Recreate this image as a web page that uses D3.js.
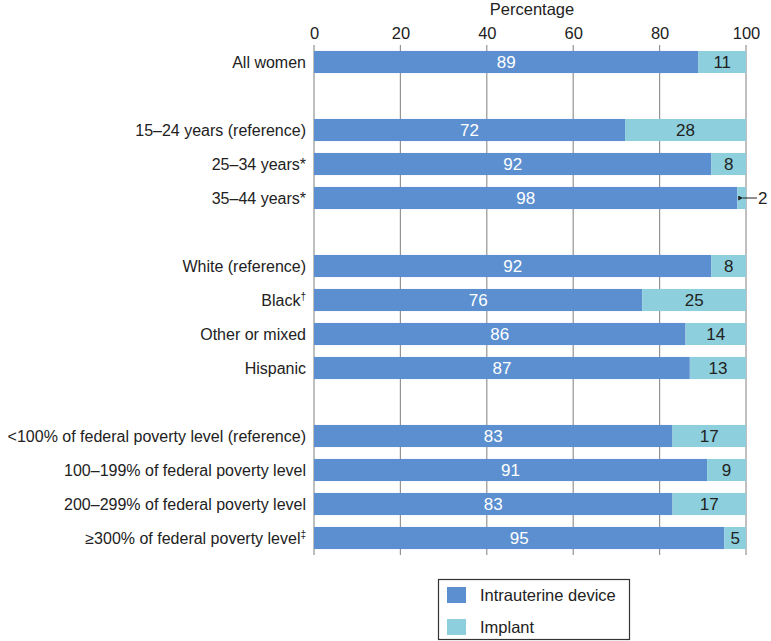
<!DOCTYPE html>
<html><head><meta charset="utf-8">
<script src="https://cdn.jsdelivr.net/npm/d3@7"></script>
<style>body{margin:0;background:#fff}svg{display:block}text{font-family:"Liberation Sans",Arial,sans-serif}</style>
</head><body><svg id="c" width="771" height="641"></svg>
<script>
const categories = ["All women","","15–24 years (reference)","25–34 years*","35–44 years*","","White (reference)","Black","Other or mixed","Hispanic","","<100% of federal poverty level (reference)","100–199% of federal poverty level","200–299% of federal poverty level","≥300% of federal poverty level"];
const superscripts = ["","","","","","","","†","","","","","","","‡"];
const iudValues =     [89,null,72,92,98,null,92,76,86,87,null,83,91,83,95];
const implantValues = [11,null,28,8,2,null,8,25,14,13,null,17,9,17,5];
const tickValues = [0,20,40,60,80,100];
const seriesNames = ["Intrauterine device","Implant"];
const colors = ["#5b8fd0","#8dcfdc"];

const svg = d3.select("#c");
const x = d3.scaleLinear().domain([0,100]).range([314,746]).clamp(true);
const y = d3.scaleBand().domain(d3.range(categories.length)).range([45,555]).paddingInner(0.35).paddingOuter(0.175);

// gridlines
svg.append("g").selectAll("line").data(tickValues).join("line")
  .attr("x1",d=>x(d)).attr("x2",d=>x(d)).attr("y1",45).attr("y2",555)
  .attr("stroke","#949494").attr("stroke-width",1.2);

// axis
const ax = svg.append("g").attr("transform","translate(0,45)").call(d3.axisTop(x).tickValues(tickValues).tickSize(0).tickPadding(6));
ax.select(".domain").remove();
ax.selectAll("text").attr("font-size",16.5).attr("fill","#222").attr("font-family","Liberation Sans, Arial, sans-serif");
svg.append("text").attr("x",532).attr("y",15).attr("text-anchor","middle").attr("font-size",16.5).attr("fill","#222").text("Percentage");

const rows = categories.map((c,i)=>({c,i,iud:iudValues[i],imp:implantValues[i],sup:superscripts[i]})).filter(d=>d.iud!==null);

// bars
const g = svg.append("g");
g.selectAll("rect.iud").data(rows).join("rect").attr("class","iud")
  .attr("x",x(0)).attr("y",d=>y(d.i)).attr("width",d=>x(d.iud)-x(0)).attr("height",y.bandwidth()).attr("fill",colors[0]);
g.selectAll("rect.imp").data(rows).join("rect").attr("class","imp")
  .attr("x",d=>x(d.iud)).attr("y",d=>y(d.i)).attr("width",d=>x(d.iud+d.imp)-x(d.iud)).attr("height",y.bandwidth()).attr("fill",colors[1]);

// value labels
g.selectAll("text.iv").data(rows).join("text").attr("class","iv")
  .attr("x",d=>(x(0)+x(d.iud))/2).attr("y",d=>y(d.i)+y.bandwidth()/2).attr("dy","0.36em")
  .attr("text-anchor","middle").attr("font-size",17).attr("fill","#fff").text(d=>d.iud);
g.selectAll("text.pv").data(rows.filter(d=>d.imp>=3)).join("text").attr("class","pv")
  .attr("x",d=>(x(d.iud)+x(d.iud+d.imp))/2).attr("y",d=>y(d.i)+y.bandwidth()/2).attr("dy","0.36em")
  .attr("text-anchor","middle").attr("font-size",17).attr("fill","#222").text(d=>d.imp);

// small value with arrow
svg.append("defs").append("marker").attr("id","ah").attr("viewBox","0 0 10 10").attr("refX",1).attr("refY",5)
  .attr("markerWidth",5).attr("markerHeight",5).attr("orient","auto")
  .append("path").attr("d","M10,0 L0,5 L10,10 z").attr("fill","#222");
rows.filter(d=>d.imp<3).forEach(d=>{
  const cy = y(d.i)+y.bandwidth()/2;
  svg.append("line").attr("x1",x(100)+11).attr("x2",x(d.iud+d.imp/2)+1).attr("y1",cy).attr("y2",cy)
    .attr("stroke","#222").attr("stroke-width",1).attr("marker-end","url(#ah)");
  svg.append("text").attr("x",x(100)+12).attr("y",cy).attr("dy","0.36em").attr("font-size",17).attr("fill","#222").text(d.imp);
});

// category labels
const lab = svg.append("g").selectAll("text").data(rows).join("text")
  .attr("x",306).attr("y",d=>y(d.i)+y.bandwidth()/2).attr("dy","0.36em").attr("text-anchor","end")
  .attr("font-size",16).attr("fill","#222");
lab.append("tspan").text(d=>d.c);
lab.filter(d=>d.sup).append("tspan").attr("font-size",10).attr("dy","-0.6em").text(d=>d.sup);

// legend
const lg = svg.append("g");
lg.append("rect").attr("x",438.5).attr("y",579.5).attr("width",191).attr("height",60).attr("fill","#fff").attr("stroke","#333").attr("stroke-width",1.2);
seriesNames.forEach((s,k)=>{
  lg.append("rect").attr("x",447).attr("y",587+k*32).attr("width",19).attr("height",16).attr("fill",colors[k]);
  lg.append("text").attr("x",480).attr("y",595+k*32).attr("dy","0.36em").attr("font-size",16.5).attr("fill","#222").text(s);
});
</script></body></html>
